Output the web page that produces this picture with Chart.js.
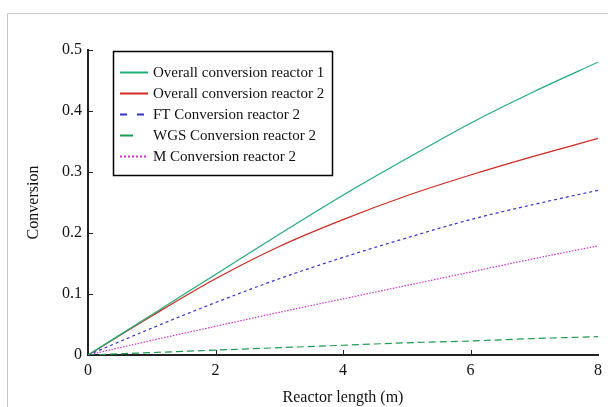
<!DOCTYPE html>
<html>
<head>
<meta charset="utf-8">
<script src="https://cdn.jsdelivr.net/npm/chart.js@4"></script>
<style>
  html, body { margin: 0; padding: 0; background: #fff; }
  #wrap { position: absolute; left: 0; top: 0; width: 608px; height: 407px; }
</style>
</head>
<body>
<div id="wrap"><canvas id="myChart" width="608" height="407"></canvas></div>
<script>
// reactor length (m)
var lengths = [0, 1, 2, 3, 4, 5, 6, 7, 8];

var overall1 = [0, 0.066, 0.132, 0.198, 0.262, 0.322, 0.380, 0.432, 0.480];
var overall2 = [0, 0.064, 0.125, 0.178, 0.222, 0.261, 0.295, 0.326, 0.355];
var ftConv2  = [0, 0.044, 0.086, 0.125, 0.160, 0.192, 0.222, 0.247, 0.270];
var wgsConv2 = [0, 0.004, 0.008, 0.012, 0.016, 0.020, 0.023, 0.027, 0.030];
var mConv2   = [0, 0.024, 0.047, 0.070, 0.092, 0.114, 0.136, 0.158, 0.179];

var seriesNames = ['Overall conversion reactor 1', 'Overall conversion reactor 2',
  'FT Conversion reactor 2', 'WGS Conversion reactor 2', 'M Conversion reactor 2'];

var xTicks = [0, 2, 4, 6, 8];
var yTicks = [0, 0.1, 0.2, 0.3, 0.4, 0.5];

function pts(vals) {
  return lengths.map(function (x, i) { return { x: x, y: vals[i] }; });
}

var serif = '"Liberation Serif", "DejaVu Serif", serif';

var ctx = document.getElementById('myChart').getContext('2d');

// gray frame, inward ticks and boxed legend
var decorations = {
  id: 'decorations',
  beforeDraw: function (chart) {
    var c = chart.ctx;
    c.save();
    c.strokeStyle = '#c8c8c8';
    c.lineWidth = 1;
    c.beginPath();
    c.moveTo(7.5, 407);
    c.lineTo(7.5, 13.5);
    c.lineTo(608, 13.5);
    c.stroke();
    c.restore();
  },
  afterDraw: function (chart) {
    var c = chart.ctx;
    var xs = chart.scales.x, ys = chart.scales.y;
    var area = chart.chartArea;
    c.save();
    c.strokeStyle = '#222';
    c.lineWidth = 1;
    xTicks.forEach(function (v) {
      if (v === 0 || v === 8) return;
      var px = Math.round(xs.getPixelForValue(v)) + 0.5;
      c.beginPath();
      c.moveTo(px, area.bottom);
      c.lineTo(px, area.bottom - 5);
      c.stroke();
    });
    yTicks.forEach(function (v) {
      if (v === 0) return;
      var py = Math.round(ys.getPixelForValue(v)) + 0.5;
      c.beginPath();
      c.moveTo(area.left, py);
      c.lineTo(area.left + 5, py);
      c.stroke();
    });

    // legend
    var bx = 113.5, by = 51.5, bw = 219, bh = 124;
    c.fillStyle = '#fff';
    c.fillRect(bx, by, bw, bh);
    c.strokeStyle = '#000';
    c.lineWidth = 1.5;
    c.strokeRect(bx, by, bw, bh);
    c.font = '15px ' + serif;
    c.textBaseline = 'middle';
    c.textAlign = 'left';
    chart.data.datasets.forEach(function (ds, i) {
      var y = 72.5 + i * 21;
      c.strokeStyle = ds.borderColor;
      c.lineWidth = 2;
      c.setLineDash(ds.legendDash || []);
      c.beginPath();
      c.moveTo(120, y);
      c.lineTo(ds.legendEnd || 148, y);
      c.stroke();
      c.setLineDash([]);
      c.fillStyle = '#111';
      c.fillText(ds.label, 153, y + 1);
    });
    c.restore();
  }
};

var myChart = new Chart(ctx, {
  type: 'line',
  data: {
    datasets: [
      { label: seriesNames[0], data: pts(overall1), borderColor: '#22aa77', borderWidth: 1.2 },
      { label: seriesNames[1], data: pts(overall2), borderColor: '#cc2a22', borderWidth: 1.2 },
      { label: seriesNames[2], data: pts(ftConv2), borderColor: '#3333cc', borderWidth: 1.2,
        borderDash: [3, 3], legendDash: [7, 10] },
      { label: seriesNames[3], data: pts(wgsConv2), borderColor: '#1d9a50', borderWidth: 1.2,
        borderDash: [7, 4], legendEnd: 133 },
      { label: seriesNames[4], data: pts(mConv2), borderColor: '#cc33cc', borderWidth: 1.2,
        borderDash: [1.5, 1.5], legendDash: [2, 2] }
    ]
  },
  options: {
    responsive: false,
    animation: false,
    elements: {
      point: { radius: 0 },
      line: { cubicInterpolationMode: 'monotone', fill: false }
    },
    layout: { padding: { left: 0, top: 50, right: 8, bottom: 0 } },
    scales: {
      x: {
        type: 'linear',
        min: 0,
        max: 8,
        afterFit: function (s) { s.height = 52; },
        afterBuildTicks: function (s) { s.ticks = xTicks.map(function (v) { return { value: v }; }); },
        grid: { display: true, drawOnChartArea: false, drawTicks: false },
        border: { display: true, color: '#222', width: 2 },
        ticks: { color: '#111', padding: 6, font: { family: serif, size: 16 }, maxRotation: 0 },
        title: { display: true, text: 'Reactor length (m)', color: '#111',
          font: { family: serif, size: 16 }, padding: { top: 0, bottom: 0 } }
      },
      y: {
        min: 0,
        max: 0.5,
        afterFit: function (s) { s.width = 88; },
        afterBuildTicks: function (s) { s.ticks = yTicks.map(function (v) { return { value: v }; }); },
        grid: { display: true, drawOnChartArea: false, drawTicks: false },
        border: { display: true, color: '#222', width: 2 },
        ticks: { color: '#111', padding: 6, font: { family: serif, size: 16 },
          callback: function (v) { return v === 0 ? '0' : v.toFixed(1); } },
        title: { display: true, text: 'Conversion', color: '#111',
          font: { family: serif, size: 16 }, padding: { top: 24, bottom: 0 } }
      }
    },
    plugins: {
      legend: { display: false },
      tooltip: { enabled: false }
    }
  },
  plugins: [decorations]
});
</script>
</body>
</html>
